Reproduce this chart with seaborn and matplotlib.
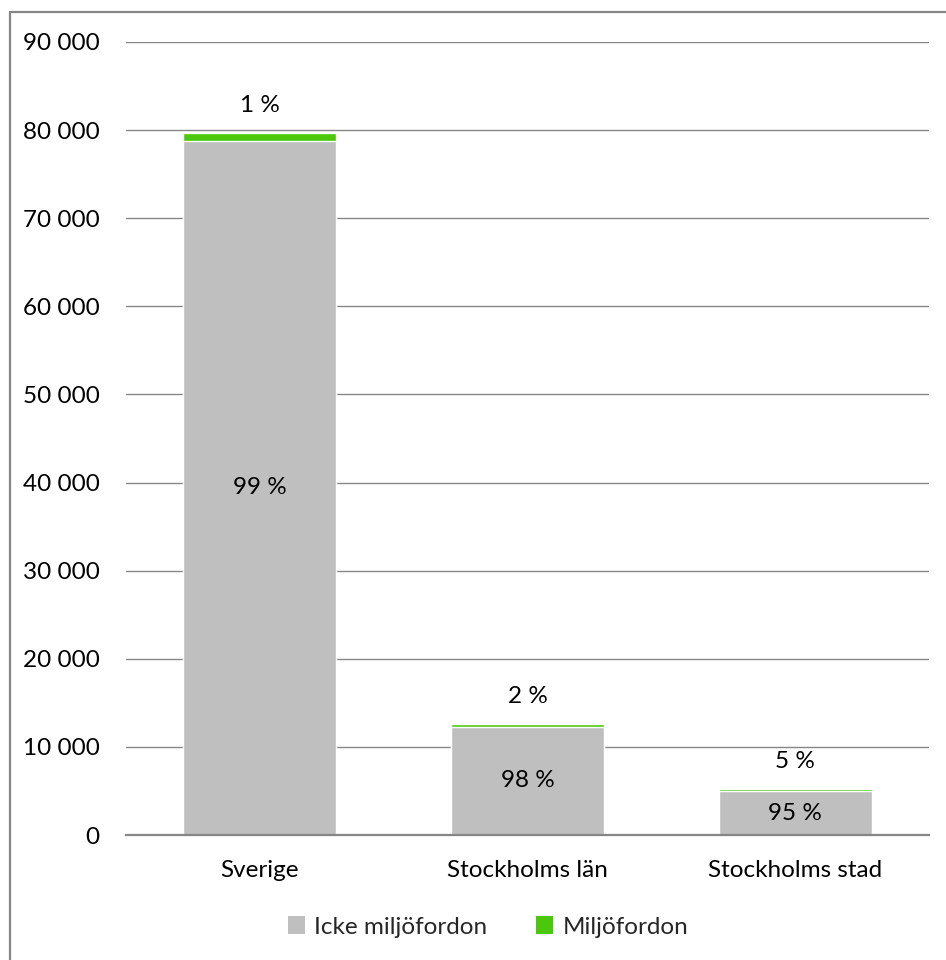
import matplotlib
matplotlib.use("Agg")
import matplotlib.pyplot as plt
from matplotlib.patches import Patch
from matplotlib.lines import Line2D
from matplotlib.ticker import FuncFormatter, MultipleLocator
import seaborn as sns
import pandas as pd

# Vehicle counts per region
regions = ["Sverige", "Stockholms län", "Stockholms stad"]
icke_miljo = [78770, 12300, 4960]
miljo = [880, 265, 260]
series_names = ["Icke miljöfordon", "Miljöfordon"]

GRAY = "#bfbfbf"
GREEN = "#4bc80b"
LINE = "#868686"
FS = 17.5

sns.set_theme(style="white")
plt.rcParams["font.family"] = ["Lato", "DejaVu Sans"]

df = pd.DataFrame({"region": regions, "icke": icke_miljo, "miljo": miljo})
df["total"] = df["icke"] + df["miljo"]

fig = plt.figure(figsize=(9.46, 9.60), dpi=100)
ax = fig.add_axes([126 / 946, 1 - 835 / 960, (929 - 126) / 946, (835 - 42) / 960])

# Stacked bars: full totals in green, non-green share drawn over them
sns.barplot(data=df, x="region", y="total", color=GREEN, width=0.571,
            saturation=1, ax=ax, zorder=3)
sns.barplot(data=df, x="region", y="icke", color=GRAY, width=0.571,
            saturation=1, ax=ax, zorder=4)

ax.set_ylim(0, 90000)
ax.set_xlim(-0.5, 2.5)
ax.yaxis.set_major_locator(MultipleLocator(10000))
ax.yaxis.set_major_formatter(FuncFormatter(lambda v, p: f"{int(v):,}".replace(",", " ")))
ax.grid(axis="y", color=LINE, linewidth=1.0, zorder=0)
ax.grid(axis="x", visible=False)
for side in ["top", "right", "left"]:
    ax.spines[side].set_visible(False)
ax.spines["bottom"].set_color(LINE)
ax.spines["bottom"].set_linewidth(1.6)
ax.spines["bottom"].set_zorder(5)
ax.set_xlabel("")
ax.set_ylabel("")
ax.tick_params(axis="y", length=0, pad=19, labelsize=FS, labelcolor="black")
ax.tick_params(axis="x", length=0, pad=18, labelsize=FS, labelcolor="black")

# Percentage labels
for i, row in df.iterrows():
    share_icke = round(100 * row["icke"] / row["total"])
    share_miljo = round(100 * row["miljo"] / row["total"])
    ax.text(i, row["icke"] / 2, f"{share_icke} %", ha="center", va="center",
            fontsize=FS, color="black", zorder=6)
    ax.annotate(f"{share_miljo} %", xy=(i, row["total"]), xytext=(0, 15),
                textcoords="offset points", ha="center", va="baseline",
                fontsize=FS, color="black", zorder=6)

handles = [Patch(facecolor=GRAY, edgecolor="none"),
           Patch(facecolor=GREEN, edgecolor="none")]
fig.legend(handles, series_names, loc="center", bbox_to_anchor=(488 / 946, 1 - 927 / 960),
           ncol=2, frameon=False, fontsize=FS, handlelength=0.7, handleheight=0.7,
           handletextpad=0.4, columnspacing=2.0)

# Chart frame
fig.add_artist(Line2D([9.5 / 946, 9.5 / 946], [0, 1 - 11.5 / 960],
                      transform=fig.transFigure, color=LINE, linewidth=1.6))
fig.add_artist(Line2D([9.5 / 946, 1], [1 - 11.5 / 960, 1 - 11.5 / 960],
                      transform=fig.transFigure, color=LINE, linewidth=1.6))

fig.savefig("out.png", dpi=100, facecolor="white")
